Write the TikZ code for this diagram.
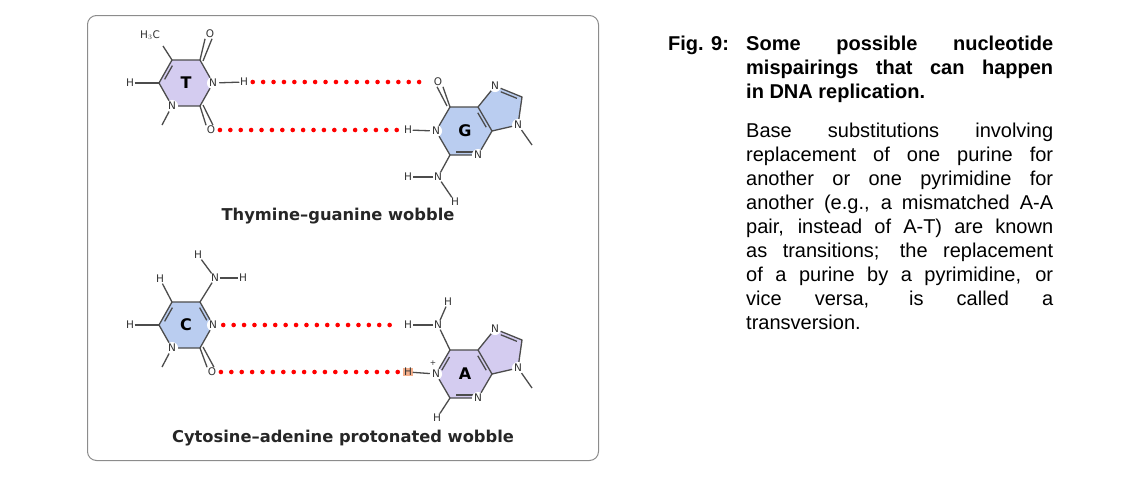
\documentclass[tikz,border=0pt]{standalone}
\usepackage{fontspec}
\usetikzlibrary{calc}
\setmainfont{Liberation Sans}
\newfontfamily\chem{DejaVu Sans}
\begin{document}
\begin{tikzpicture}[x=1pt,y=-1pt,
  bond/.style={draw=black!70,line width=1.3pt},
  atom/.style={font=\chem\fontsize{10.5}{11}\selectfont,text=black!80,fill=white,inner sep=0.4pt,circle},
  atomc/.style={font=\chem\fontsize{10.5}{11}\selectfont,text=black!80,inner sep=0.6pt},
  base/.style={font=\chem\bfseries\fontsize{16}{16}\selectfont},
  hb/.style={draw=red,line width=4.6pt,line cap=round,dash pattern=on 0pt off 10.4pt,shorten <=4pt,shorten >=4pt},
  captxt/.style={font=\chem\bfseries\fontsize{16.3}{16}\selectfont,text=black!85},
  pur/.style={fill={rgb,255:red,212;green,204;blue,240}},
  blu/.style={fill={rgb,255:red,186;green,205;blue,240}},
  txt/.style={font=\fontsize{20}{24}\selectfont,anchor=north west,inner sep=0pt}]
\useasboundingbox (0,0) rectangle (1138,482);
\node[draw=black!45,line width=1pt,rounded corners=9pt,minimum width=511pt,minimum height=445pt,anchor=north west] (frame) at (87,15) {};

% ===== T =====
\foreach \n/\x/\y in {t1/172/60,t2/200/60,t3/213/83,t4/200/106,t5/172/106,t6/159/83}{\coordinate (\n) at (\x,\y);}
\fill[pur] (t1)--(t2)--(t3)--(t4)--(t5)--(t6)--cycle;
\draw[bond] (t1)--(t2)--(t3)--(t4)--(t5)--(t6)--cycle;
\draw[bond] ($(t6)!0.2!(t1)+(3,1)$) -- ($(t6)!0.8!(t1)+(3,1)$);
\coordinate (tme) at (163,46);
\draw[bond] (t1)--(tme);
\node[atomc] (tH3C) at (150,35) {H$_3$C};
\node[atomc] (tO4) at (210,34) {O};
\draw[bond] (t2)--(tO4.south west) ($(t2)+(3,1)$)--($(tO4.south)+(2,0)$);
\node[atomc] (tH6) at (130,83) {H};
\draw[bond,line width=2.2pt] (tH6)--(t6);
\node[atom] (tN3) at (t3) {N};
\node[atomc] (tH3) at (244,82) {H};
\draw[bond] (tN3)--(tH3);
\node[atom] (tN1) at (t5) {N};
\coordinate (tm1) at (162,125);
\draw[bond] (tN1)--(tm1);
\node[atomc] (tO2) at (211,130) {O};
\draw[bond] (t4)--(tO2.north west) ($(t4)+(3,-1)$)--($(tO2.north)+(2,0)$);
\node[base] (T) at (186,83) {T};

% ===== G =====
\foreach \n/\x/\y in {g6/450/107,g5/478/107,g4/492/131,g3/478/155,g2/450/155,g1/436/131,g7/495/86,g8/522/97,g9/518/125}{\coordinate (\n) at (\x,\y);}
\fill[blu] (g6)--(g5)--(g7)--(g8)--(g9)--(g4)--(g3)--(g2)--(g1)--cycle;
\draw[bond] (g6)--(g5)--(g4)--(g3)--(g2)--(g1)--cycle (g5)--(g7)--(g8)--(g9)--(g4);
\draw[bond] ($(g5)!0.2!(g4)+(-3,1)$)--($(g5)!0.8!(g4)+(-3,1)$);
\draw[bond] ($(g3)!0.15!(g2)+(0,-3)$)--($(g3)!0.8!(g2)+(0,-3)$);
\draw[bond] ($(g7)!0.25!(g8)+(-1,3)$)--($(g7)!0.85!(g8)+(-1,3)$);
\node[atomc] (gO6) at (438,82) {O};
\draw[bond] (g6)--(gO6.south east) ($(g6)+(-3,-1)$)--($(gO6.south)+(-1,0)$);
\node[atom] (gN1) at (g1) {N};
\node[atomc] (gH1) at (408,130) {H};
\draw[bond] (gN1)--(gH1);
\node[atom] (gN3) at (g3) {N};
\node[atom] (gN7) at (g7) {N};
\node[atom] (gN9) at (g9) {N};
\coordinate (gm9) at (532,145);
\draw[bond] (gN9)--(gm9);
\node[atomc] (gN2) at (438,177) {N};
\draw[bond] (g2)--(gN2);
\node[atomc] (gH2a) at (408,177) {H};
\draw[bond] (gN2)--(gH2a);
\node[atomc] (gH2b) at (455,202) {H};
\draw[bond] (gN2)--(gH2b);
\node[base] (G) at (465,131) {G};

\draw[hb] (tH3.east)--(gO6.west);
\draw[hb] (tO2.east)--(gH1.west);
\node[captxt] (cap1) at (338,216) {Thymine–guanine wobble};

% ===== C =====
\foreach \n/\x/\y in {c1/172/302,c2/200/302,c3/213/325,c4/200/348,c5/172/348,c6/159/325}{\coordinate (\n) at (\x,\y);}
\fill[blu] (c1)--(c2)--(c3)--(c4)--(c5)--(c6)--cycle;
\draw[bond] (c1)--(c2)--(c3)--(c4)--(c5)--(c6)--cycle;
\draw[bond] ($(c6)!0.2!(c1)+(3,1)$) -- ($(c6)!0.8!(c1)+(3,1)$);
\draw[bond] ($(c2)!0.2!(c3)+(-3,1)$) -- ($(c2)!0.75!(c3)+(-3,1)$);
\node[atomc] (cH5) at (160,279) {H};
\draw[bond] (c1)--(cH5);
\node[atomc] (cN4) at (215,278) {N};
\draw[bond] (c2)--(cN4);
\node[atomc] (cH4a) at (243,278) {H};
\draw[bond] (cN4)--(cH4a);
\node[atomc] (cH4b) at (198,255) {H};
\draw[bond] (cN4)--(cH4b);
\node[atomc] (cH6) at (130,325) {H};
\draw[bond,line width=2.2pt] (cH6)--(c6);
\node[atom] (cN3) at (c3) {N};
\node[atom] (cN1) at (c5) {N};
\coordinate (cm1) at (162,367);
\draw[bond] (cN1)--(cm1);
\node[atomc] (cO2) at (212,372) {O};
\draw[bond] (c4)--(cO2.north west) ($(c4)+(3,-1)$)--($(cO2.north)+(2,0)$);
\node[base] (C) at (186,325) {C};

% ===== A =====
\foreach \n/\x/\y in {a6/450/350,a5/478/350,a4/492/374,a3/478/398,a2/450/398,a1/436/374,a7/495/329,a8/522/340,a9/518/368}{\coordinate (\n) at (\x,\y);}
\fill[pur] (a6)--(a5)--(a7)--(a8)--(a9)--(a4)--(a3)--(a2)--(a1)--cycle;
\draw[bond] (a6)--(a5)--(a4)--(a3)--(a2)--(a1)--cycle (a5)--(a7)--(a8)--(a9)--(a4);
\draw[bond] ($(a5)!0.2!(a4)+(-3,1)$)--($(a5)!0.8!(a4)+(-3,1)$);
\draw[bond] ($(a3)!0.15!(a2)+(0,-3)$)--($(a3)!0.8!(a2)+(0,-3)$);
\draw[bond] ($(a7)!0.25!(a8)+(-1,3)$)--($(a7)!0.85!(a8)+(-1,3)$);
\draw[bond] ($(a6)!0.25!(a1)+(3,1)$)--($(a6)!0.8!(a1)+(3,1)$);
\node[atomc] (aN6) at (438,325) {N};
\draw[bond] (a6)--(aN6);
\node[atomc] (aH6a) at (408,325) {H};
\draw[bond] (aN6)--(aH6a);
\node[atomc] (aH6b) at (448,302) {H};
\draw[bond] (aN6)--(aH6b);
\node[atom] (aN1) at (a1) {N};
\node[font=\chem\fontsize{7.5}{7}\selectfont,text=black!80,inner sep=0pt] (plus) at (433,363) {+};
\node[atomc,fill={rgb,255:red,246;green,176;blue,140}] (aH1) at (408,372) {H};
\draw[bond] (aN1)--(aH1);
\node[atom] (aN3) at (a3) {N};
\node[atom] (aN7) at (a7) {N};
\node[atom] (aN9) at (a9) {N};
\coordinate (am9) at (532,388);
\draw[bond] (aN9)--(am9);
\node[atomc] (aH2) at (437,418) {H};
\draw[bond] (a2)--(aH2);
\node[base] (A) at (465,374) {A};

\draw[hb] (cN3.east)--(aH6a.west);
\draw[hb] (cO2.east)--(aH1.west);
\node[captxt] (cap2) at (343,438) {Cytosine–adenine protonated wobble};

% ===== text =====
\node[txt,font=\bfseries\fontsize{20}{24}\selectfont] (fig) at (668,36) {Fig. 9:};
\node[txt,font=\bfseries\fontsize{20}{24}\selectfont,align=left] (title) at (746,36)
  {\makebox[307pt][s]{Some possible nucleotide}\\\makebox[307pt][s]{mispairings that can happen}\\in DNA replication.};
\node[txt,align=left] (body) at (746,123)
  {\makebox[307pt][s]{Base substitutions involving}\\
   \makebox[307pt][s]{replacement of one purine for}\\
   \makebox[307pt][s]{another or one pyrimidine for}\\
   \makebox[307pt][s]{another (e.g., a mismatched A-A}\\
   \makebox[307pt][s]{pair, instead of A-T) are known}\\
   \makebox[307pt][s]{as transitions; the replacement}\\
   \makebox[307pt][s]{of a purine by a pyrimidine, or}\\
   \makebox[307pt][s]{vice versa, is called a}\\
   transversion.};
\end{tikzpicture}
\end{document}
